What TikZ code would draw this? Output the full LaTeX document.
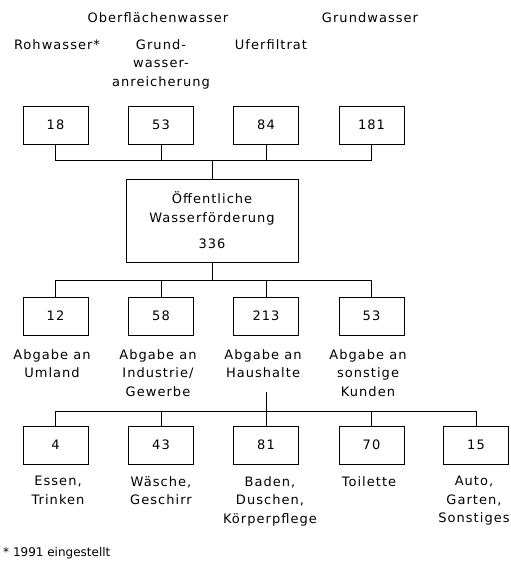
\documentclass[tikz,border=0pt]{standalone}
\usepackage{fontspec}
\setmainfont{DejaVu Sans}[LetterSpace=8]
\begin{document}
\begin{tikzpicture}[x=1pt,y=-1pt,
  every node/.style={font=\fontsize{13}{18.5}\selectfont},
  box/.style={draw, line width=1pt, minimum width=65pt, minimum height=38pt, inner sep=0pt},
  bigbox/.style={draw, line width=1pt, minimum width=172pt, minimum height=83pt, inner sep=0pt, align=center},
  lbl/.style={align=center, inner sep=0pt, anchor=north},
  note/.style={anchor=west, inner sep=0pt, font=\fontsize{12}{14}\selectfont\addfontfeatures{LetterSpace=0}},
  conn/.style={line width=1pt}]
\useasboundingbox (0,0) rectangle (511,566);

% headings
\node[lbl] (ow) at (158,12) {Oberflächenwasser};
\node[lbl] (gw) at (370,12) {Grundwasser};
\node[lbl] (roh) at (57,39) {Rohwasser*};
\node[lbl] (gwa) at (161,39) {Grund-\\wasser-\\anreicherung};
\node[lbl] (ufer) at (271,39) {Uferfiltrat};

% top boxes
\node[box] (t1) at (55.5,125) {18};
\node[box] (t2) at (161,125) {53};
\node[box] (t3) at (266,125) {84};
\node[box] (t4) at (371.5,125) {181};

% central box
\node[bigbox] (c) at (212,220.5) {Öffentliche\\Wasserförderung\\[8pt]336};

% row 2
\node[box] (a1) at (55.5,316) {12};
\node[box] (a2) at (161,316) {58};
\node[box] (a3) at (266,316) {213};
\node[box] (a4) at (371.5,316) {53};
\node[lbl] (la1) at (52,349) {Abgabe an\\Umland};
\node[lbl] (la2) at (158,349) {Abgabe an\\Industrie/\\Gewerbe};
\node[lbl] (la3) at (263,349) {Abgabe an\\Haushalte};
\node[lbl] (la4) at (368,349) {Abgabe an\\sonstige\\Kunden};

% row 3
\node[box] (h1) at (55.5,445) {4};
\node[box] (h2) at (161,445) {43};
\node[box] (h3) at (266,445) {81};
\node[box] (h4) at (371.5,445) {70};
\node[box] (h5) at (476,445) {15};
\node[lbl] (lh1) at (58,476) {Essen,\\Trinken};
\node[lbl] (lh2) at (161,476) {Wäsche,\\Geschirr};
\node[lbl] (lh3) at (270,476) {Baden,\\Duschen,\\Körperpflege};
\node[lbl] (lh4) at (369,476) {Toilette};
\node[lbl] (lh5) at (474,476) {Auto,\\Garten,\\Sonstiges};

\node[note] (fn) at (3,553) {* 1991 eingestellt};

% junction coordinates
\coordinate (j1) at (212,160);
\coordinate (j2) at (212,280);
\coordinate (j3) at (266,411);
\coordinate (j3top) at (266,392);

% connectors top
\draw[conn] (t1.south) |- (j1);
\draw[conn] (t4.south) |- (j1);
\draw[conn] (t2.south) -- (t2.south |- j1);
\draw[conn] (t3.south) -- (t3.south |- j1);
\draw[conn] (j1) -- (c.north);

% connectors middle
\draw[conn] (c.south) -- (j2);
\draw[conn] (a1.north) |- (j2);
\draw[conn] (a4.north) |- (j2);
\draw[conn] (a2.north) -- (a2.north |- j2);
\draw[conn] (a3.north) -- (a3.north |- j2);

% connectors bottom
\draw[conn] (j3top) -- (j3);
\draw[conn] (h1.north) |- (j3);
\draw[conn] (h5.north) |- (j3);
\draw[conn] (h2.north) -- (h2.north |- j3);
\draw[conn] (h3.north) -- (h3.north |- j3);
\draw[conn] (h4.north) -- (h4.north |- j3);
\end{tikzpicture}
\end{document}
